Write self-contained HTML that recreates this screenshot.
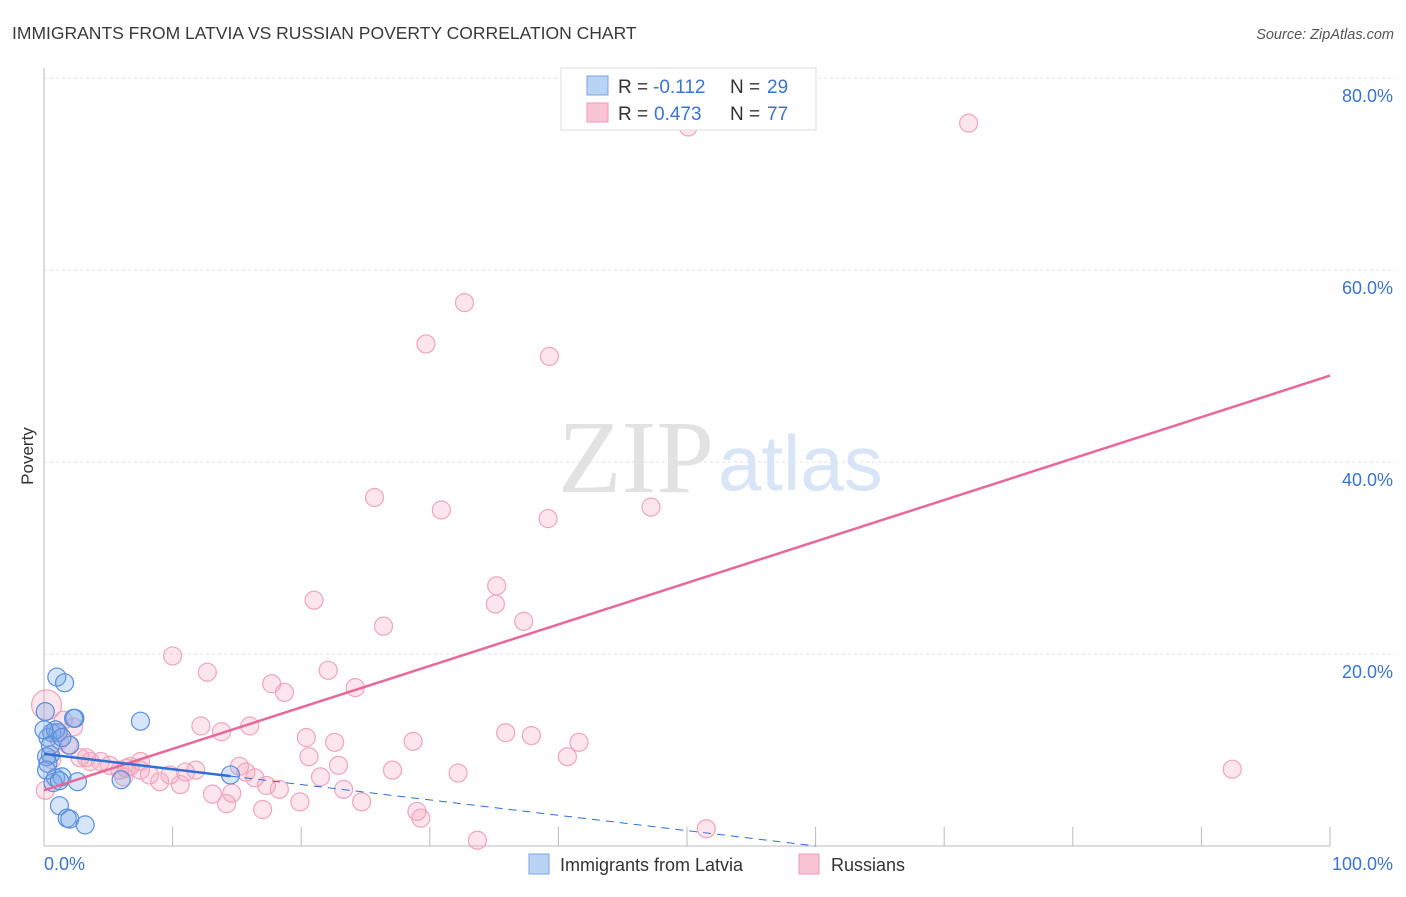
<!DOCTYPE html>
<html><head><meta charset="utf-8"><style>
body{margin:0;background:#fff;font-family:"Liberation Sans",sans-serif}
</style></head><body>
<svg width="1406" height="892" style="font-family:'Liberation Sans',sans-serif">
<text x="12" y="39" font-size="17.5" fill="#3a3a3a">IMMIGRANTS FROM LATVIA VS RUSSIAN POVERTY CORRELATION CHART</text>
<text x="1394" y="39" font-size="14.5" fill="#555" text-anchor="end" font-style="italic">Source: ZipAtlas.com</text>
<g id="grid"></g>
<text x="714" y="492" font-size="104" fill="#e2e2e2" text-anchor="end" style="font-family:'Liberation Serif',serif">ZIP</text>
<text x="718" y="490" font-size="78" fill="#d8e5f6">atlas</text>
<g id="axes"></g>
<text x="33" y="456" font-size="17" fill="#333" text-anchor="middle" transform="rotate(-90 33 456)">Poverty</text>
<g id="pts"></g>
<g id="lines"></g>
<g>
<rect x="561" y="68" width="255" height="62" fill="#fff" stroke="#ddd"/>
<rect x="587" y="76" width="21" height="19" fill="#b9d3f5" stroke="#7aa6e0"/>
<rect x="587" y="103" width="21" height="19" fill="#f9c5d4" stroke="#ec9ab3"/>
<text x="618" y="93" font-size="19" fill="#333">R =</text>
<text x="653" y="93" font-size="19" fill="#3b73d1">-0.112</text>
<text x="730" y="93" font-size="19" fill="#333">N =</text>
<text x="767" y="93" font-size="19" fill="#3b73d1">29</text>
<text x="618" y="120" font-size="19" fill="#333">R =</text>
<text x="654" y="120" font-size="19" fill="#3b73d1">0.473</text>
<text x="730" y="120" font-size="19" fill="#333">N =</text>
<text x="767" y="120" font-size="19" fill="#3b73d1">77</text>
</g>
<g>
<rect x="529" y="854" width="20" height="20" fill="#b9d3f5" stroke="#7aa6e0"/>
<text x="560" y="871" font-size="18" fill="#333">Immigrants from Latvia</text>
<rect x="799" y="854" width="20" height="20" fill="#f9c5d4" stroke="#ec9ab3"/>
<text x="831" y="871" font-size="18" fill="#333">Russians</text>
</g>
</svg>
<script>
const yTicks=[20,40,60,80];
const yTickLabels=["20.0%","40.0%","60.0%","80.0%"];
const xTickVals=[0,10,20,30,40,50,60,70,80,90,100];
const pinkX=[50.1,71.9,32.7,29.7,39.3,25.7,30.9,39.2,47.2,35.2,35.1,21.0,37.3,26.4,10.0,12.7,22.1,17.7,18.7,24.2,12.2,16.0,13.8,20.4,22.6,28.7,35.9,37.9,41.6,40.7,20.6,22.9,27.1,32.2,21.5,15.2,15.7,16.4,17.3,18.3,14.6,13.1,14.2,17.0,19.9,23.3,24.7,29.0,29.3,33.7,51.5,92.4,1.5,2.3,1.2,1.9,0.9,0.2,2.8,3.6,4.4,5.1,5.9,6.7,7.5,8.2,9.0,9.8,10.6,11.0,11.8,6.2,7.5,0.6,0.1,3.3,6.4];
const pinkY=[74.9,75.3,56.6,52.3,51.0,36.3,35.0,34.1,35.3,27.1,25.2,25.6,23.4,22.9,19.8,18.1,18.3,16.9,16.0,16.5,12.5,12.5,11.9,11.3,10.8,10.9,11.8,11.5,10.8,9.3,9.3,8.4,7.9,7.6,7.2,8.3,7.7,7.1,6.3,5.9,5.5,5.4,4.4,3.8,4.6,5.9,4.6,3.6,2.9,0.6,1.8,8.0,13.1,12.4,11.0,10.5,11.8,14.7,9.2,8.8,8.8,8.4,7.9,8.3,8.8,7.4,6.7,7.4,6.4,7.7,7.9,7.2,7.9,9.0,5.8,9.2,8.1];
const blueX=[1.0,1.6,0.1,2.4,2.3,7.5,0.6,1.1,0.3,2.0,0.5,0.2,0.3,0.9,1.4,0.7,1.2,2.6,6.0,14.5,1.2,1.8,2.0,3.2,0.2,0.9,0.5,0.0,1.4];
const blueY=[17.6,17.0,14.0,13.3,13.3,13.0,11.8,11.8,11.3,10.5,9.5,9.3,8.6,7.1,7.2,6.6,6.8,6.7,6.9,7.4,4.2,2.9,2.8,2.2,7.9,12.1,10.5,12.1,11.3];
const pinkTrend=[5.8,49.0];
const blueTrend=[9.6,-0.16];
const NS="http://www.w3.org/2000/svg";
const X=v=>44+v*12.86, Y=v=>846-v*9.6;
function mk(t,a,p){const e=document.createElementNS(NS,t);for(const k in a)e.setAttribute(k,a[k]);p.appendChild(e);return e;}
const grid=document.getElementById('grid'),axes=document.getElementById('axes'),pts=document.getElementById('pts'),lines=document.getElementById('lines');
yTicks.forEach((v,i)=>{
 const l=mk('line',{x1:44,x2:1395,y1:Y(v),y2:Y(v),stroke:'#e2e2e2','stroke-dasharray':'3,3'},grid);
 
 
 const t=mk('text',{x:1393,y:Y(v)+24,'font-size':18,fill:'#3b73d1','text-anchor':'end'},axes);t.textContent=yTickLabels[i];
 
 
});
mk('line',{x1:44,x2:44,y1:68,y2:846,stroke:'#bbb'},axes);
mk('line',{x1:44,x2:1330,y1:846,y2:846,stroke:'#bbb'},axes);
xTickVals.forEach(v=>{const l=mk('line',{x1:X(v),x2:X(v),y1:827,y2:846,stroke:'#bbb'},axes);
 
 });
let t=mk('text',{x:44,y:870,'font-size':18,fill:'#3b73d1'},axes);t.textContent="0.0%";


t=mk('text',{x:1393,y:870,'font-size':18,fill:'#3b73d1','text-anchor':'end'},axes);t.textContent="100.0%";


pinkX.forEach((x,i)=>{const c=mk('circle',{cx:X(x),cy:Y(pinkY[i]),r:(i==57?15:9),fill:'rgba(244,160,186,0.28)',stroke:'#f0a5bd','stroke-width':1.2},pts);
 
 });
blueX.forEach((x,i)=>{const c=mk('circle',{cx:X(x),cy:Y(blueY[i]),r:9,fill:'rgba(120,168,232,0.3)',stroke:'#5a8edc','stroke-width':1.2},pts);
 
 });
let l=mk('line',{x1:X(0),y1:Y(pinkTrend[0]),x2:X(100),y2:Y(pinkTrend[1]),stroke:'#e8689a','stroke-width':2.5},lines);


l=mk('line',{x1:X(0),y1:Y(blueTrend[0]),x2:X(14.5),y2:Y(blueTrend[0]+blueTrend[1]*14.5),stroke:'#2f6fd6','stroke-width':2.5},lines);


l=mk('line',{x1:X(14.5),y1:Y(blueTrend[0]+blueTrend[1]*14.5),x2:X(60),y2:Y(blueTrend[0]+blueTrend[1]*60),stroke:'#2f6fd6','stroke-width':1,'stroke-dasharray':'8,6'},lines);


</script>
</body></html>
